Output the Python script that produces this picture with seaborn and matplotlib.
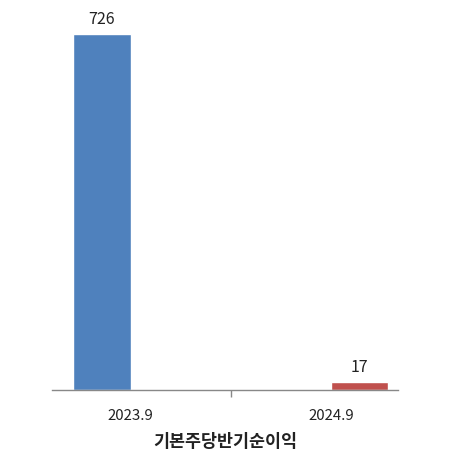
import matplotlib
matplotlib.use("Agg")
import matplotlib.pyplot as plt
import matplotlib.transforms as mtransforms
import seaborn as sns
import pandas as pd

categories = ["2023.9", "2024.9"]
values = [726, 17]
colors = ["#4F81BD", "#C0504D"]
xlabel = "기본주당반기순이익"

sns.set_style("white")
plt.rcParams["font.family"] = ["Noto Sans CJK KR", "DejaVu Sans"]

df = pd.DataFrame({"period": categories, "value": values})

fig = plt.figure(figsize=(4.68, 4.64), dpi=100)
ax = fig.add_axes([52 / 468, 1 - 391 / 464, (398 - 52) / 468, (391 - 20) / 464])

sns.barplot(data=df, x="period", y="value", hue="period", palette=colors,
            dodge=True, width=0.98, gap=0.32, legend=False, ax=ax, saturation=1)

for cont in ax.containers:
    ax.bar_label(cont, labels=[f"{v:.0f}" for v in cont.datavalues],
                 padding=5, fontsize=11.5, color="#222222")

ax.set_xlim(-0.5325, 1.4675)
ax.set_ylim(0, values[0] * 371 / 356)
ax.set_yticks([])
for s in ["left", "right", "top"]:
    ax.spines[s].set_visible(False)
ax.spines["bottom"].set_color("#888888")
ax.spines["bottom"].set_linewidth(1.0)

ax.set_xticks([0, 1])
ax.set_xticklabels(categories, fontsize=10.8, color="#222222")
ax.tick_params(axis="x", which="major", length=0, pad=13)
ax.set_xticks([0.5], minor=True)
ax.tick_params(axis="x", which="minor", bottom=True, length=5, width=1, color="#888888")

offsets = [-14, 14]
for lbl, dx in zip(ax.get_xticklabels(), offsets):
    lbl.set_transform(lbl.get_transform() + mtransforms.ScaledTranslation(dx / 100, 0, fig.dpi_scale_trans))

ax.set_xlabel(xlabel, fontsize=12.5, fontweight="bold", color="#222222", labelpad=7)
ax.set_ylabel("")

fig.savefig("out.png", dpi=100)
